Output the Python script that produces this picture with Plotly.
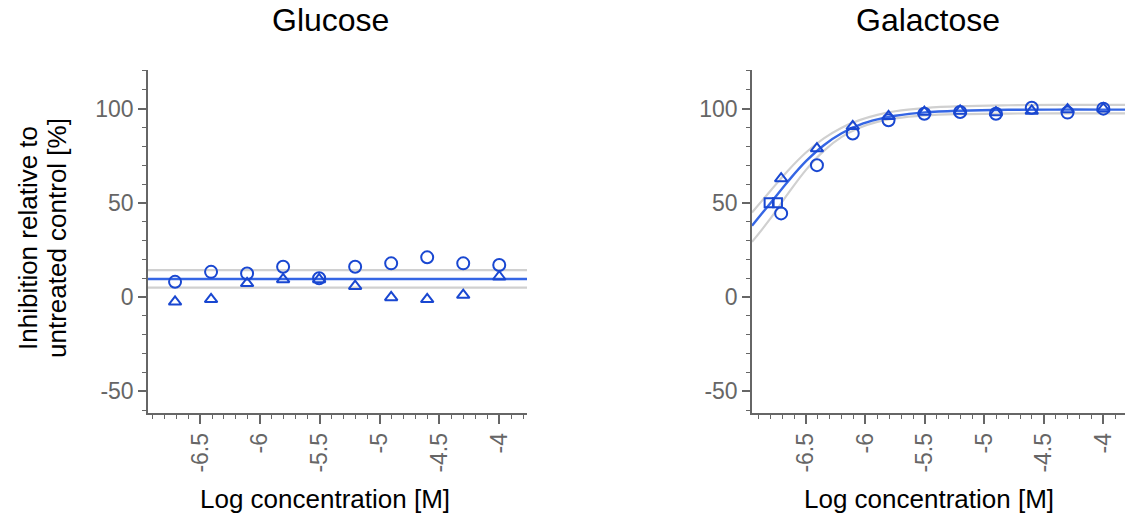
import plotly.graph_objects as go

# ---------------- data ----------------
log_conc = [-6.709, -6.408, -6.107, -5.806, -5.505, -5.204, -4.903, -4.602, -4.301, -4.0]

glucose_rep1 = [8.1, 13.4, 12.5, 16.1, 10.0, 16.1, 17.9, 21.1, 17.9, 17.0]      # circles
glucose_rep2 = [-2.5, -1.2, 7.3, 9.4, 9.4, 5.8, -0.2, -1.2, 1.1, 10.8]          # triangles
glucose_fit_x = [-6.935, -3.768]
glucose_fit = [9.6, 9.6]
glucose_ci_upper = [14.3, 14.3]
glucose_ci_lower = [5.0, 5.0]

galactose_rep1 = [44.4, 70.0, 86.8, 93.8, 97.3, 98.2, 97.3, 100.5, 97.9, 100.0]  # circles
galactose_rep2 = [62.9, 78.8, 90.6, 95.9, 98.2, 98.8, 97.9, 98.8, 99.5, 100.0]   # triangles
galactose_ec50_x = [-6.81, -6.74]
galactose_ec50_y = [50, 50]
galactose_fit_x = [-6.954, -6.80, -6.65, -6.50, -6.35, -6.20, -6.05, -5.90, -5.75, -5.50, -5.20, -4.80, -4.40, -4.00, -3.818]
galactose_fit = [37.9, 49.8, 61.5, 72.1, 80.6, 86.9, 91.4, 94.3, 96.2, 98.0, 98.9, 99.4, 99.5, 99.5, 99.5]
galactose_ci_upper = [44.9, 56.3, 67.2, 76.7, 84.2, 89.9, 93.9, 96.7, 98.6, 100.3, 101.3, 101.8, 102.0, 102.0, 102.0]
galactose_ci_lower = [29.3, 41.6, 55.0, 67.5, 77.6, 85.0, 89.9, 93.0, 94.8, 96.4, 97.1, 97.4, 97.5, 97.5, 97.5]

x_tick_vals = [-6.5, -6, -5.5, -5, -4.5, -4]
x_tick_text = ["-6.5", "-6", "-5.5", "-5", "-4.5", "-4"]
y_tick_vals = [-50, 0, 50, 100]
y_tick_text = ["-50", "0", "50", "100"]

panel_titles = ["Glucose", "Galactose"]
x_title = "Log concentration [M]"
y_title_lines = ["Inhibition relative to", "untreated control [%]"]

# ---------------- style ----------------
W, H = 1125, 521
FONT = "Arial, Liberation Sans, sans-serif"
MARK = "#1947d1"
FITC = "#3566e4"
BAND = "#d0d0d0"
AXC = "#666666"

def px(x):
    return x / W

def py(y):
    return 1 - y / H

fig = go.Figure()

def add_panel(xa, ya, fit_x, fit, up, lo, r1, r2, extra=None):
    for yy in (up, lo):
        fig.add_trace(go.Scatter(x=fit_x, y=yy, mode="lines", line=dict(color=BAND, width=2.2, shape="spline"),
                                 xaxis=xa, yaxis=ya, showlegend=False, hoverinfo="skip"))
    fig.add_trace(go.Scatter(x=fit_x, y=fit, mode="lines", line=dict(color=FITC, width=2.4, shape="spline"),
                             xaxis=xa, yaxis=ya, showlegend=False))
    if extra is not None:
        fig.add_trace(go.Scatter(x=extra[0], y=extra[1], mode="markers",
                                 marker=dict(symbol="square-open", size=9, color=MARK, line=dict(width=2, color=MARK)),
                                 xaxis=xa, yaxis=ya, showlegend=False))
    fig.add_trace(go.Scatter(x=log_conc, y=r1, mode="markers",
                             marker=dict(symbol="circle-open", size=12, color=MARK, line=dict(width=2, color=MARK)),
                             xaxis=xa, yaxis=ya, showlegend=False))
    fig.add_trace(go.Scatter(x=log_conc, y=r2, mode="markers",
                             marker=dict(symbol="triangle-up-open", size=11, color=MARK, line=dict(width=2, color=MARK)),
                             xaxis=xa, yaxis=ya, showlegend=False))

add_panel("x", "y", glucose_fit_x, glucose_fit, glucose_ci_upper, glucose_ci_lower, glucose_rep1, glucose_rep2)
add_panel("x2", "y2", galactose_fit_x, galactose_fit, galactose_ci_upper, galactose_ci_lower,
          galactose_rep1, galactose_rep2, extra=(galactose_ec50_x, galactose_ec50_y))

xcommon = dict(tickvals=x_tick_vals, ticktext=x_tick_text, tickangle=-90, showline=True, linecolor=AXC, linewidth=1.5,
               ticks="outside", ticklen=9, tickwidth=1.5, tickcolor=AXC, showgrid=False, zeroline=False,
               tickfont=dict(family=FONT, size=23, color="#666666"),
               minor=dict(dtick=0.1, tick0=-7, ticks="outside", ticklen=4, tickcolor=AXC, tickwidth=1.2, showgrid=False))
ycommon = dict(tickvals=y_tick_vals, ticktext=y_tick_text, range=[-61.5, 120.5], showline=True, linecolor=AXC,
               linewidth=1.5, ticks="outside", ticklen=8, tickwidth=1.5, tickcolor=AXC, showgrid=False, zeroline=False,
               tickfont=dict(family=FONT, size=23, color="#666666"),
               minor=dict(dtick=10, tick0=0, ticks="outside", ticklen=4, tickcolor=AXC, tickwidth=1.2, showgrid=False))

y_dom = [py(413), py(70)]
fig.update_layout(
    width=W, height=H, margin=dict(l=0, r=0, t=0, b=0), autosize=False,
    paper_bgcolor="white", plot_bgcolor="white",
    xaxis=dict(domain=[px(148), px(527)], range=[-6.935, -3.768], anchor="y", **xcommon),
    yaxis=dict(domain=y_dom, anchor="x", **ycommon),
    xaxis2=dict(domain=[px(752), 1.0], range=[-6.954, -3.818], anchor="y2", **xcommon),
    yaxis2=dict(domain=y_dom, anchor="x2", **ycommon),
    font=dict(family=FONT),
)

ann = []
for txt, cx in zip(panel_titles, [330, 928]):
    ann.append(dict(text=txt, x=px(cx), y=1.0, xref="paper", yref="paper", showarrow=False,
                    xanchor="center", yanchor="top", font=dict(family=FONT, size=32, color="#000000")))
for cx in [325, 929]:
    ann.append(dict(text=x_title, x=px(cx), y=py(499), xref="paper", yref="paper", showarrow=False,
                    xanchor="center", yanchor="middle", font=dict(family=FONT, size=26, color="#000000")))
for txt, cx in zip(y_title_lines, [28, 57]):
    ann.append(dict(text=txt, x=px(cx), y=py(238), xref="paper", yref="paper", showarrow=False, textangle=-90,
                    xanchor="center", yanchor="middle", font=dict(family=FONT, size=26, color="#000000")))
fig.update_layout(annotations=ann)

fig.write_html("out.html", config={"displayModeBar": False},
               post_script="document.body.style.margin='0';document.body.style.overflow='hidden';")
